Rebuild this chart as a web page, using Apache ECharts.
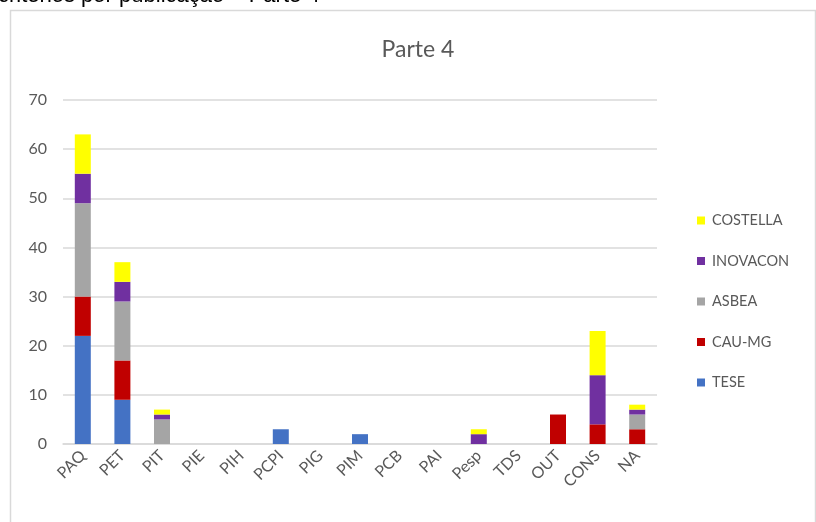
<!DOCTYPE html>
<html>
<head>
<meta charset="utf-8">
<script src="https://cdn.jsdelivr.net/npm/echarts@6/dist/echarts.min.js"></script>
<style>
  html, body { margin: 0; padding: 0; background: #fff; }
  #chart { width: 816px; height: 522px; }
</style>
</head>
<body>
<div id="chart"></div>
<script>
// Categories along the horizontal axis
const categories = ['PAQ', 'PET', 'PIT', 'PIE', 'PIH', 'PCPI', 'PIG', 'PIM', 'PCB', 'PAI', 'Pesp', 'TDS', 'OUT', 'CONS', 'NA'];

// Counts per source, stacked bottom to top
const tese      = [22, 9, 0, 0, 0, 3, 0, 2, 0, 0, 0, 0, 0, 0, 0];
const cauMg     = [8, 8, 0, 0, 0, 0, 0, 0, 0, 0, 0, 0, 6, 4, 3];
const asbea     = [19, 12, 5, 0, 0, 0, 0, 0, 0, 0, 0, 0, 0, 0, 3];
const inovacon  = [6, 4, 1, 0, 0, 0, 0, 0, 0, 0, 2, 0, 0, 10, 1];
const costella  = [8, 4, 1, 0, 0, 0, 0, 0, 0, 0, 1, 0, 0, 9, 1];

// Value axis ticks
const yTicks = [0, 10, 20, 30, 40, 50, 60, 70];

const textColor = '#595959';
const fontFamily = 'Lato, "Noto Sans", sans-serif';

const seriesDefs = [
  { name: 'TESE', data: tese, color: '#4472C4' },
  { name: 'CAU-MG', data: cauMg, color: '#C00000' },
  { name: 'ASBEA', data: asbea, color: '#A5A5A5' },
  { name: 'INOVACON', data: inovacon, color: '#7030A0' },
  { name: 'COSTELLA', data: costella, color: '#FFFF00' }
];

const chart = echarts.init(document.getElementById('chart'), null, { renderer: 'canvas' });

chart.setOption({
  animation: false,
  backgroundColor: '#fff',
  textStyle: { fontFamily: fontFamily },
  graphic: [
    {
      type: 'text',
      left: -2,
      top: -15,
      style: {
        text: 'critérios por publicação – Parte 4',
        font: '22px "Liberation Sans", Arial, sans-serif',
        fill: '#000'
      },
      z: 10
    },
    {
      type: 'rect',
      shape: { x: 10.5, y: 10.5, width: 805, height: 530 },
      style: { fill: 'none', stroke: '#d9d9d9', lineWidth: 1.5 },
      z: 10
    }
  ],
  title: {
    text: 'Parte 4',
    left: 413,
    top: 33,
    textAlign: 'center',
    textStyle: { color: textColor, fontSize: 23, fontWeight: 'normal', fontFamily: fontFamily }
  },
  legend: {
    orient: 'vertical',
    left: 692,
    top: 208,
    itemWidth: 8,
    itemHeight: 8,
    itemGap: 25.5,
    icon: 'rect',
    data: ['COSTELLA', 'INOVACON', 'ASBEA', 'CAU-MG', 'TESE'],
    textStyle: { color: textColor, fontSize: 14.5, fontFamily: fontFamily, padding: [0, 0, 0, 2] }
  },
  grid: {
    left: 63,
    right: 159,
    top: 100,
    bottom: 78,
    containLabel: false
  },
  xAxis: {
    type: 'category',
    data: categories,
    axisLine: { show: true, lineStyle: { color: '#d9d9d9', width: 1.5 } },
    axisTick: { show: false },
    axisLabel: {
      color: textColor,
      fontSize: 16,
      fontFamily: fontFamily,
      rotate: 45,
      interval: 0,
      margin: 9
    }
  },
  yAxis: {
    type: 'value',
    min: 0,
    max: 70,
    interval: 10,
    axisLine: { show: false },
    axisTick: { show: false },
    axisLabel: {
      color: textColor,
      fontSize: 16,
      fontFamily: fontFamily,
      margin: 16,
      formatter: function (v) { return yTicks.indexOf(v) >= 0 ? String(v) : ''; }
    },
    splitLine: { lineStyle: { color: '#d9d9d9', width: 1.5 } }
  },
  series: seriesDefs.map(function (s) {
    return {
      name: s.name,
      type: 'bar',
      stack: 'total',
      data: s.data,
      barWidth: 16,
      itemStyle: { color: s.color },
      emphasis: { disabled: true }
    };
  })
});
</script>
</body>
</html>
